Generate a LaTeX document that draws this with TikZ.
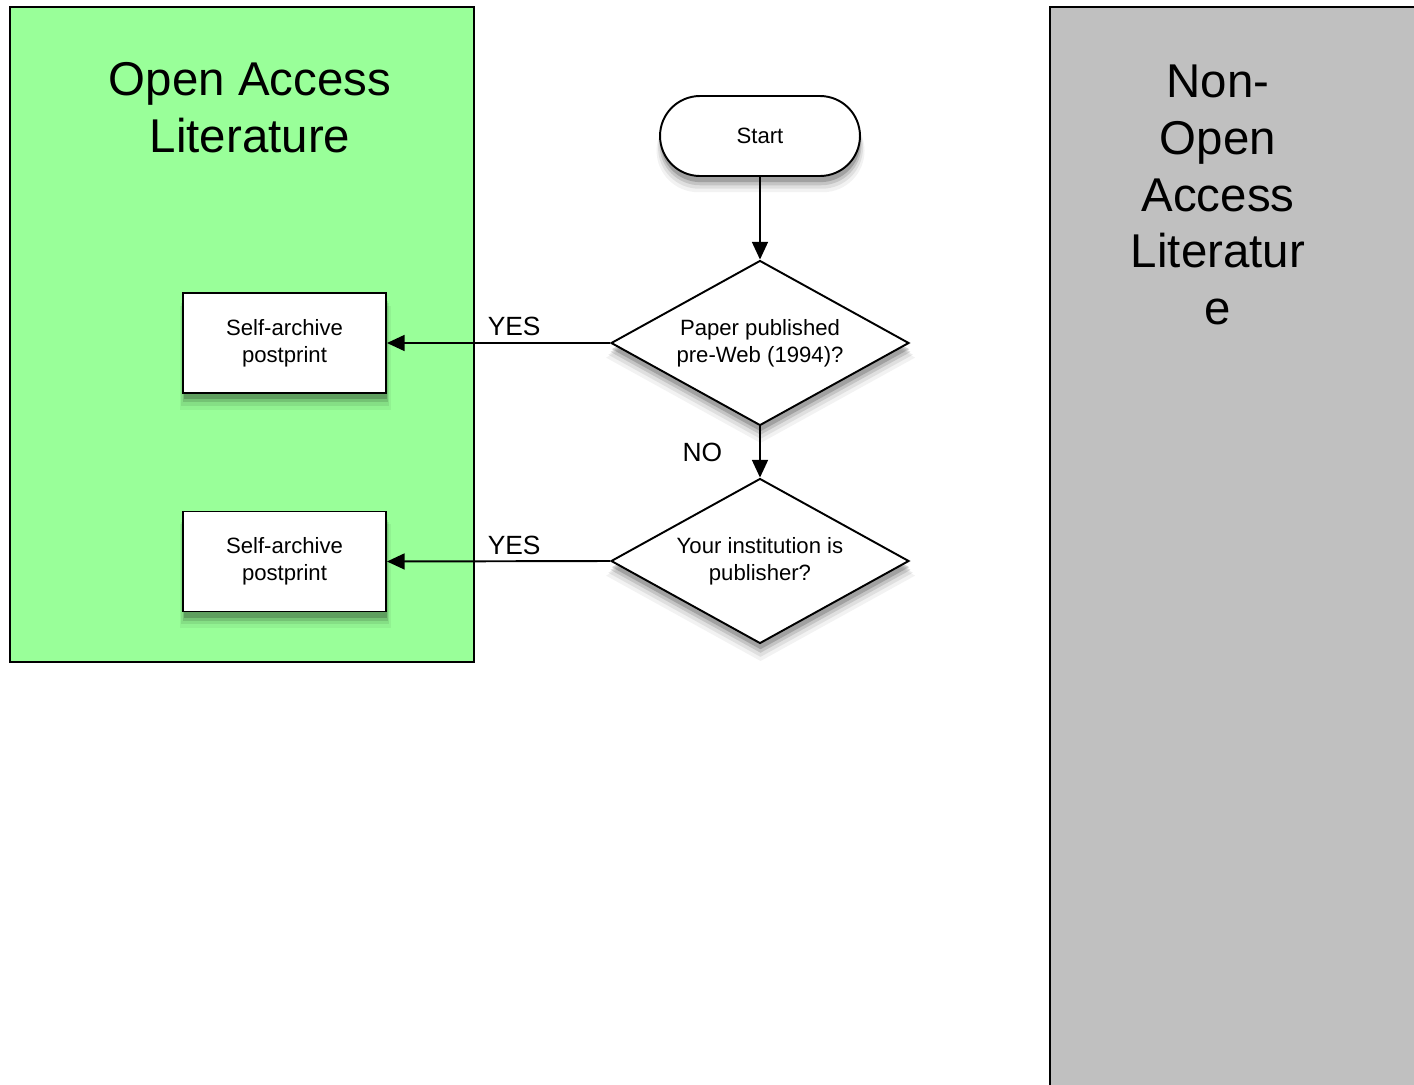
\documentclass[tikz,border=0pt]{standalone}
\usepackage{fontspec}
\setmainfont{Liberation Sans}
\usetikzlibrary{shapes.geometric,shadows,arrows.meta}

\definecolor{oagreen}{HTML}{99FF99}
\definecolor{nogray}{HTML}{C0C0C0}

\tikzset{
	panel/.style={draw=black,line width=1.5pt},
	paneltitle/.style={align=center,font=\fontsize{27pt}{32.3pt}\selectfont},
	soft shadow/.style={
		drop shadow={shadow xshift=0.3pt,shadow yshift=-8pt,shadow scale=1.04,opacity=0.05,fill=black},
		drop shadow={shadow xshift=0.3pt,shadow yshift=-6.5pt,shadow scale=1.025,opacity=0.08,fill=black},
		drop shadow={shadow xshift=0.3pt,shadow yshift=-5pt,shadow scale=1.01,opacity=0.12,fill=black},
		drop shadow={shadow xshift=0.3pt,shadow yshift=-3.5pt,opacity=0.18,fill=black}},
	terminal/.style={draw,line width=1.1pt,fill=white,rounded corners=0.8cm,minimum width=4cm,minimum height=1.6cm,font=\fontsize{12.6pt}{15.3pt}\selectfont,soft shadow},
	decision/.style={diamond,draw,line width=1.1pt,fill=white,aspect=1.8,inner sep=0pt,minimum width=5.96cm,minimum height=3.3cm,align=center,font=\fontsize{12.6pt}{15.3pt}\selectfont,soft shadow},
	process/.style={draw,line width=1.1pt,fill=white,minimum width=4.06cm,minimum height=2cm,align=center,font=\fontsize{12.6pt}{15.3pt}\selectfont,soft shadow},
	flow/.style={line width=1.1pt,-{Triangle[length=10pt,width=9pt]}},
	answer/.style={font=\fontsize{15pt}{17pt}\selectfont}
}

\begin{document}
\begin{tikzpicture}[x=0.02cm,y=-0.02cm]
	\clip (0,0) rectangle (1414,1085);
	
	% Draw the two literature panels
	\draw[panel,fill=oagreen] (10,7) rectangle (474,662);
	\draw[panel,fill=nogray] (1050,7) rectangle (1440,1110);
	\node[paneltitle] (oatitle) at (250,108) {Open Access\\Literature};
	\node[paneltitle] (notitle) at (1218,195) {Non-\\Open\\Access\\Literatur\\e};
	
	% Draw flowchart nodes
	\node[terminal] (start) at (760,136) {Start};
	\node[decision] (q1) at (760,343) {Paper published\\pre-Web (1994)?};
	\node[decision] (q2) at (760,561) {Your institution is\\publisher?};
	\node[process] (box1) at (284.5,343) {Self-archive\\postprint};
	\node[process] (box2) at (284.5,561.5) {Self-archive\\postprint};
	
	% Draw connectors
	\draw[flow] (start) -- (q1);
	\draw[flow] (q1.west) -- (box1.east) node[answer,pos=0.43,above]{YES};
	\draw[flow] (q1.south) -- (q2.north) node[answer,midway,left=0.62cm]{NO};
	\draw[flow] (q2.west) -- (box2.east) node[answer,pos=0.43,above]{YES};
\end{tikzpicture}
\end{document}
